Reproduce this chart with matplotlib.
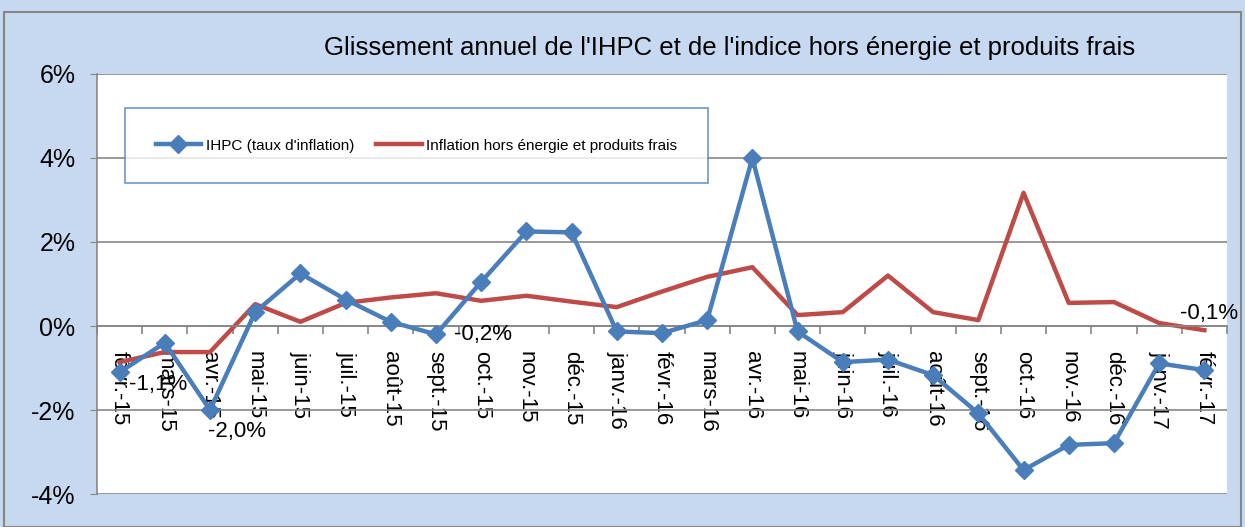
import matplotlib
matplotlib.use('Agg')
import matplotlib.pyplot as plt
from matplotlib.legend_handler import HandlerLine2D
import numpy as np

months = ['févr.-15', 'mars-15', 'avr.-15', 'mai-15', 'juin-15', 'juil.-15', 'août-15',
          'sept.-15', 'oct.-15', 'nov.-15', 'déc.-15', 'janv.-16', 'févr.-16', 'mars-16',
          'avr.-16', 'mai-16', 'juin-16', 'juil.-16', 'août-16', 'sept.-16', 'oct.-16',
          'nov.-16', 'déc.-16', 'janv.-17', 'févr.-17']
ihpc = [-1.1, -0.4, -2.0, 0.33, 1.25, 0.63, 0.1, -0.2, 1.05, 2.25, 2.23, -0.13, -0.17,
        0.14, 4.0, -0.13, -0.86, -0.8, -1.17, -2.08, -3.43, -2.83, -2.79, -0.89, -1.05]
core = [-0.86, -0.62, -0.62, 0.52, 0.1, 0.55, 0.68, 0.78, 0.6, 0.72, 0.58, 0.45, 0.82,
        1.17, 1.4, 0.26, 0.33, 1.2, 0.33, 0.14, 3.17, 0.55, 0.57, 0.07, -0.1]
yticks = [-4, -2, 0, 2, 4, 6]

blue = '#4A7EBB'
red = '#BE4B48'
bg = '#C6D9F0'
grid_c = '#868686'


class EndMarker(HandlerLine2D):
    # Excel-style legend: marker sits at the right end of the line sample
    def get_xdata(self, legend, xdescent, ydescent, width, height, fontsize):
        xd, xm = super().get_xdata(legend, xdescent, ydescent, width, height, fontsize)
        return xd, [xd[-1]]


plt.rcParams['font.family'] = ['Liberation Sans', 'DejaVu Sans']

fig = plt.figure(figsize=(12.45, 5.27), dpi=100)
fig.patch.set_facecolor(bg)
ax = fig.add_axes([0.0779, 0.0626, 0.9076, 0.797])
ax.set_facecolor('white')

x = np.arange(len(months))
l1, = ax.plot(x, ihpc, color=blue, lw=3.2, marker='D', ms=9.5, label="IHPC (taux d'inflation)", zorder=3)
l2, = ax.plot(x, core, color=red, lw=3.2, label='Inflation hors énergie et produits frais', zorder=2)

ax.set_xlim(-0.5, len(months) - 0.5)
ax.set_ylim(-4, 6)
ax.set_yticks(yticks)
ax.set_yticklabels([f'{v}%' for v in yticks], fontsize=18)
ax.yaxis.grid(True, color=grid_c, lw=1.2)
ax.set_axisbelow(True)

for s in ['top', 'right']:
    ax.spines[s].set_visible(False)
ax.spines['left'].set_color(grid_c)
ax.spines['left'].set_linewidth(1.2)
ax.spines['bottom'].set_position(('data', 0))
ax.spines['bottom'].set_color(grid_c)
ax.spines['bottom'].set_linewidth(1.2)
ax.tick_params(axis='y', length=5, color=grid_c, pad=10.5)

ax.set_xticks(x)
ax.set_xticklabels(months, rotation=270, fontsize=16, va='top', ha='center')
ax.tick_params(axis='x', which='major', length=0, pad=18)
ax.set_xticks(np.arange(len(months) + 1) - 0.5, minor=True)
ax.tick_params(axis='x', which='minor', length=6, color=grid_c, width=1.2)

# data labels
ax.text(x[0] + 0.2, ihpc[0] - 0.3, '-1,1%', fontsize=16, ha='left', va='center')
ax.text(x[2] - 0.05, ihpc[2] - 0.5, '-2,0%', fontsize=16, ha='left', va='center')
ax.text(x[7] + 0.4, ihpc[7], '-0,2%', fontsize=16, ha='left', va='center')
ax.text(x[-1] + 0.1, core[-1] + 0.4, '-0,1%', fontsize=16, ha='center', va='center')

leg = ax.legend(handles=[l1, l2], loc='upper left', bbox_to_anchor=(0.0248, 0.919), ncol=2,
                frameon=True, fancybox=False, fontsize=11, handlelength=3.0, columnspacing=1.4,
                borderpad=2.0, borderaxespad=0, handletextpad=0.3, numpoints=1,
                handler_map={l1: EndMarker()})
leg.get_frame().set_edgecolor(blue)
leg.get_frame().set_linewidth(1.2)

fig.text(0.586, 0.909, "Glissement annuel de l'IHPC et de l'indice hors énergie et produits frais",
         fontsize=18.5, ha='center', va='center',
         family=['Liberation Sans Narrow', 'Liberation Sans', 'DejaVu Sans'])

# outer border
fig.add_artist(plt.Rectangle((0.003, 0.0), 0.994, 0.977, transform=fig.transFigure,
                             fill=False, edgecolor=grid_c, lw=1.5))

fig.savefig('out.png', dpi=100, facecolor=bg)
